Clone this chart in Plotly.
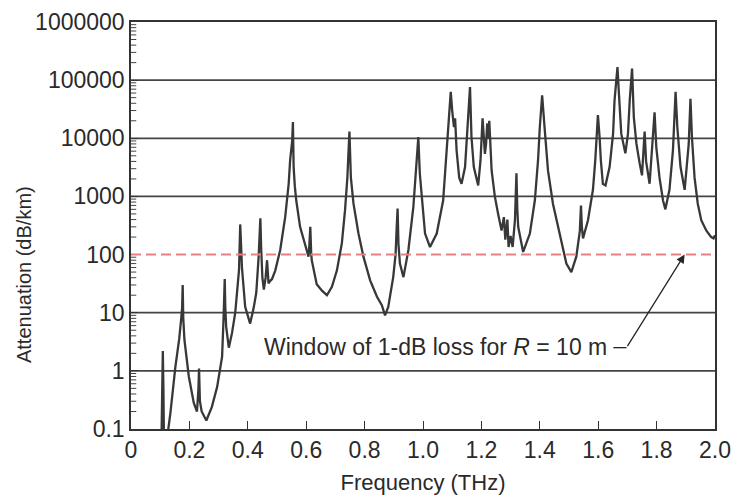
import plotly.graph_objects as go
import math

# ---- data ----
freq_thz = [
    0.104, 0.107, 0.109, 0.111, 0.113, 0.122, 0.128, 0.135, 0.152, 0.165, 0.172, 0.175, 0.177, 0.179, 0.183,
    0.198, 0.215, 0.226, 0.231, 0.233, 0.236, 0.242, 0.258, 0.277, 0.295, 0.312, 0.317, 0.321, 0.323, 0.326,
    0.335, 0.346, 0.357, 0.365, 0.370, 0.374, 0.377, 0.380, 0.391, 0.408, 0.420, 0.429, 0.437, 0.443, 0.446,
    0.450, 0.455, 0.461, 0.466, 0.471, 0.476, 0.483, 0.494, 0.511, 0.528, 0.540, 0.545, 0.549, 0.552,
    0.5545, 0.557, 0.561, 0.566, 0.579, 0.597, 0.608, 0.611, 0.614, 0.617, 0.619, 0.636, 0.654,
    0.671, 0.688, 0.705, 0.722, 0.733, 0.741, 0.748, 0.753, 0.762, 0.779, 0.796, 0.819, 0.842,
    0.859, 0.870, 0.881, 0.898, 0.906, 0.910, 0.913, 0.916, 0.921, 0.933, 0.950, 0.967, 0.978,
    0.984, 0.989, 0.996, 1.007, 1.024, 1.047, 1.069, 1.077, 1.083, 1.091, 1.095, 1.100, 1.106, 1.110, 1.112,
    1.115, 1.124, 1.132, 1.144, 1.152, 1.158, 1.161, 1.166, 1.174, 1.189, 1.197, 1.204, 1.208, 1.212, 1.216,
    1.220, 1.222, 1.227, 1.235, 1.246, 1.257, 1.269, 1.277, 1.282, 1.289, 1.293, 1.300, 1.307, 1.315, 1.320,
    1.323, 1.326, 1.343, 1.366, 1.383, 1.394, 1.400, 1.408, 1.417, 1.428, 1.445, 1.463, 1.480, 1.491, 1.508,
    1.525, 1.537, 1.541, 1.544, 1.548, 1.565, 1.582, 1.590, 1.599, 1.605, 1.609, 1.616, 1.625, 1.639, 1.651,
    1.656, 1.666, 1.671, 1.679, 1.693, 1.702, 1.708, 1.716, 1.722, 1.731, 1.742, 1.750, 1.759, 1.764, 1.776,
    1.793, 1.799, 1.810, 1.822, 1.830, 1.844, 1.856, 1.865, 1.871, 1.882, 1.896, 1.910, 1.916, 1.921, 1.930,
    1.941, 1.953, 1.970, 1.987, 1.995, 2.000,
]
attenuation_db_km = [
    0.05, 0.6, 2.2, 0.5, 0.06, 0.06, 0.1, 0.19, 1.17, 3.5, 8, 12, 30, 8, 3.4,
    0.8, 0.28, 0.2, 0.5, 1.1, 0.3, 0.2, 0.14, 0.24, 0.53, 1.75, 8, 38, 12, 5.7,
    2.5, 4.5, 10, 28, 55, 330, 90, 60, 12.6, 6.5, 12, 22, 90, 420, 120,
    40, 25, 40, 80, 32, 35, 38, 53, 120, 440, 1650, 4200, 6500, 9000,
    19000, 3200, 1500, 850, 300, 135, 92, 150, 300, 110, 80, 31, 24,
    20, 28, 53, 155, 580, 2100, 13000, 2100, 750, 230, 92, 36, 19,
    13.5, 9, 12.6, 41, 100, 300, 620, 150, 70, 41, 120, 660, 3200,
    10500, 2500, 850, 230, 135, 230, 850, 3500, 10500, 30000, 63000, 30000, 15500, 22000, 15000,
    6200, 2100, 1650, 3200, 12000, 35000, 76000, 10500, 3200, 1550, 4200, 22000, 8000, 5400, 8000,
    18000, 10000, 20000, 2800, 1000, 510, 260, 440, 180, 400, 135, 210, 135, 400, 2500,
    600, 300, 111, 230, 850, 4200, 15500, 55000, 14000, 2800, 750, 300, 120, 70, 50,
    92, 250, 700, 300, 190, 390, 1300, 4200, 25000, 10000, 4200, 1650, 1550, 3200, 12000,
    45000, 168000, 58000, 12000, 5500, 12000, 45000, 158000, 23000, 8000, 3700, 2300, 13000, 4000, 1650,
    28000, 7000, 2100, 850, 600, 1300, 6200, 63000, 15500, 3200, 1300, 8000, 48000, 10500, 2100,
    750, 390, 260, 200, 190, 215,
]

x_tick_vals = [0, 0.2, 0.4, 0.6, 0.8, 1.0, 1.2, 1.4, 1.6, 1.8, 2.0]
x_tick_text = ["0", "0.2", "0.4", "0.6", "0.8", "1.0", "1.2", "1.4", "1.6", "1.8", "2.0"]
y_tick_vals = [0.1, 1, 10, 100, 1000, 10000, 100000, 1000000]
y_tick_text = ["0.1", "1", "10", "100", "1000", "10000", "100000", "1000000"]
y_minor_vals = [m * 10 ** e for e in range(-1, 6) for m in range(2, 10)]
y_grid_vals = [1, 10, 1000, 10000, 100000]   # decade gridlines drawn (100 carries the dashed line)

window_level = 100          # dB/km, 1-dB loss over R = 10 m
window_label = "Window of 1-dB loss for <i>R</i> = 10 m"

FONT = "Liberation Sans, Arial, Helvetica, sans-serif"
TXT = "#2a2a2a"

fig = go.Figure()

for g in y_grid_vals:
    fig.add_shape(type="line", xref="paper", yref="y", x0=0, x1=1, y0=g, y1=g, layer="below",
                  line=dict(color="#444", width=1.8))

# small inside tick marks along the left axis
for v in y_minor_vals:
    fig.add_shape(type="line", xref="paper", yref="y", x0=0, x1=0.009, y0=v, y1=v,
                  line=dict(color="#444", width=1))

fig.add_trace(go.Scatter(
    x=freq_thz, y=attenuation_db_km, mode="lines",
    line=dict(color="#383838", width=2.3), showlegend=False, hoverinfo="skip",
))

fig.add_shape(type="line", xref="x", yref="y", x0=0, x1=2.0, y0=window_level, y1=window_level,
              line=dict(color="#eb7f80", width=2, dash="10px,5px"))

# label and arrow
lab_y = 0.409
fig.add_annotation(x=0.447, y=lab_y, xref="x", yref="y", text=window_label, showarrow=False,
                   xanchor="left", yanchor="middle", font=dict(family=FONT, size=23, color=TXT))
fig.add_shape(type="line", xref="x", yref="y", x0=1.652, x1=1.697, y0=10 ** (lab_y - 0.01), y1=10 ** (lab_y - 0.01),
              line=dict(color="#262626", width=1.3))
fig.add_annotation(x=1.896, y=math.log10(window_level), xref="x", yref="y",
                   ax=1.697, ay=lab_y - 0.01, axref="x", ayref="y", text="", showarrow=True,
                   arrowhead=2, arrowsize=1.3, arrowwidth=1.3, arrowcolor="#262626", standoff=0)

# y axis title
fig.add_annotation(x=-0.182, y=0.38, xref="paper", yref="paper", text="Attenuation (dB/km)",
                   textangle=-90, showarrow=False, xanchor="center", yanchor="middle",
                   font=dict(family=FONT, size=20, color=TXT))

fig.update_xaxes(
    range=[0, 2.0], tickmode="array", tickvals=x_tick_vals, ticktext=x_tick_text,
    ticks="inside", ticklen=8, tickwidth=1.2, tickcolor="#333", automargin=False,
    showline=True, linecolor="#333", linewidth=1.5, mirror=True, showgrid=False, zeroline=False,
    tickfont=dict(family=FONT, size=23, color=TXT),
    title=dict(text="Frequency (THz)", font=dict(family=FONT, size=22, color=TXT), standoff=12),
)
fig.update_yaxes(
    type="log", range=[-1, 6], tickmode="array", tickvals=y_tick_vals, ticktext=y_tick_text,
    ticks="inside", ticklen=7, tickwidth=1.2, tickcolor="#333", automargin=False,
    showline=True, linecolor="#333", linewidth=1.5, mirror=True,
    showgrid=False, zeroline=False,
    tickfont=dict(family=FONT, size=23, color=TXT), ticklabelstandoff=0,
)
fig.update_layout(
    width=733, height=499, margin=dict(l=130.5, r=17.5, t=21.7, b=70),
    paper_bgcolor="white", plot_bgcolor="white",
    font=dict(family=FONT, color=TXT),
)
fig.write_html("out.html", config={"displayModeBar": False},
               post_script="document.body.style.margin='0';")
